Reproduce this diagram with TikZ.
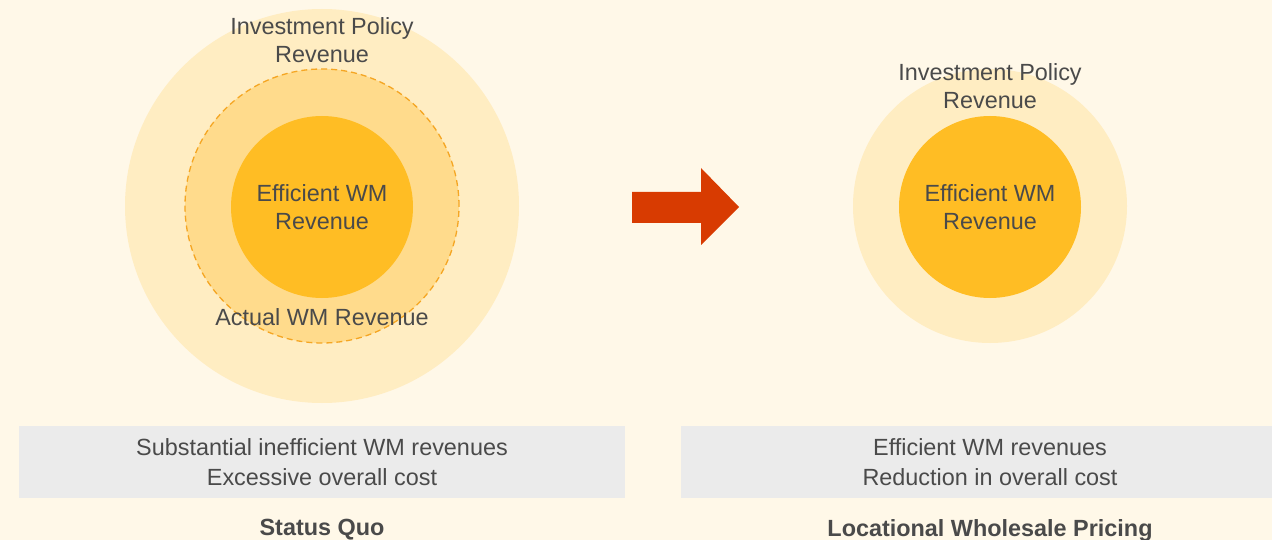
\documentclass[tikz,border=0pt]{standalone}
\usepackage{fontspec}
\setmainfont{Liberation Sans}
\usepackage{tikz}
\usetikzlibrary{positioning}
\definecolor{bgcream}{HTML}{FFF8E8}
\definecolor{ringpale}{HTML}{FFEDC2}
\definecolor{ringmid}{HTML}{FFDB8C}
\definecolor{coreorange}{HTML}{FFBD24}
\definecolor{dashorange}{HTML}{F5A623}
\definecolor{arrowred}{HTML}{D83B01}
\definecolor{boxgrey}{HTML}{EBEBEB}
\definecolor{txtgrey}{HTML}{4A4A4A}
\tikzset{
  ring/.style={circle,inner sep=0pt,minimum size=#1},
  lbl/.style={text=txtgrey,align=center,inner sep=0pt,font=\fontsize{23.4}{28}\selectfont},
  notebox/.style={fill=boxgrey,inner sep=0pt,minimum width=#1,minimum height=72pt,
    text=txtgrey,align=center,font=\fontsize{23.4}{29.5}\selectfont},
  caption/.style={text=txtgrey,inner sep=0pt,font=\fontsize{23.4}{28}\selectfont\bfseries}
}
\begin{document}
\begin{tikzpicture}[x=1pt,y=-1pt]
\useasboundingbox (0,0) rectangle (1272,540);
\fill[bgcream] (0,0) rectangle (1272,540);
% status quo
\node[ring=394pt,fill=ringpale] (SQout) at (322,206) {};
\node[ring=274pt,fill=ringmid,draw=dashorange,line width=1.3pt,dash pattern=on 6pt off 4pt] (SQact) at (322,206) {};
\node[ring=182pt,fill=coreorange] (SQin) at (322,207) {};
\node[lbl] (SQinv) at (322,40) {Investment Policy\\Revenue};
\node[lbl] (SQeff) at (322,207) {Efficient WM\\Revenue};
\node[lbl] (SQactlbl) at (322,317) {Actual WM Revenue};
% locational pricing
\node[ring=274pt,fill=ringpale] (LPout) at (990,206) {};
\node[ring=182pt,fill=coreorange] (LPin) at (990,207) {};
\node[lbl] (LPinv) at (990,86) {Investment Policy\\Revenue};
\node[lbl] (LPeff) at (990,207) {Efficient WM\\Revenue};
% arrow
\coordinate (T) at (739,207);
\fill[arrowred] (632,192) -- (701,192) -- (701,168) -- (T) -- (701,245) -- (701,223) -- (632,223) -- cycle;
% boxes
\node[notebox=606pt] (SQbox) at (322,462) {Substantial inefficient WM revenues\\Excessive overall cost};
\node[notebox=618pt] (LPbox) at (990,462) {Efficient WM revenues\\Reduction in overall cost};
\node[caption] (SQcap) at (322,530) {Status Quo};
\node[caption] (LPcap) at (990,530) {Locational Wholesale Pricing};
\end{tikzpicture}
\end{document}
